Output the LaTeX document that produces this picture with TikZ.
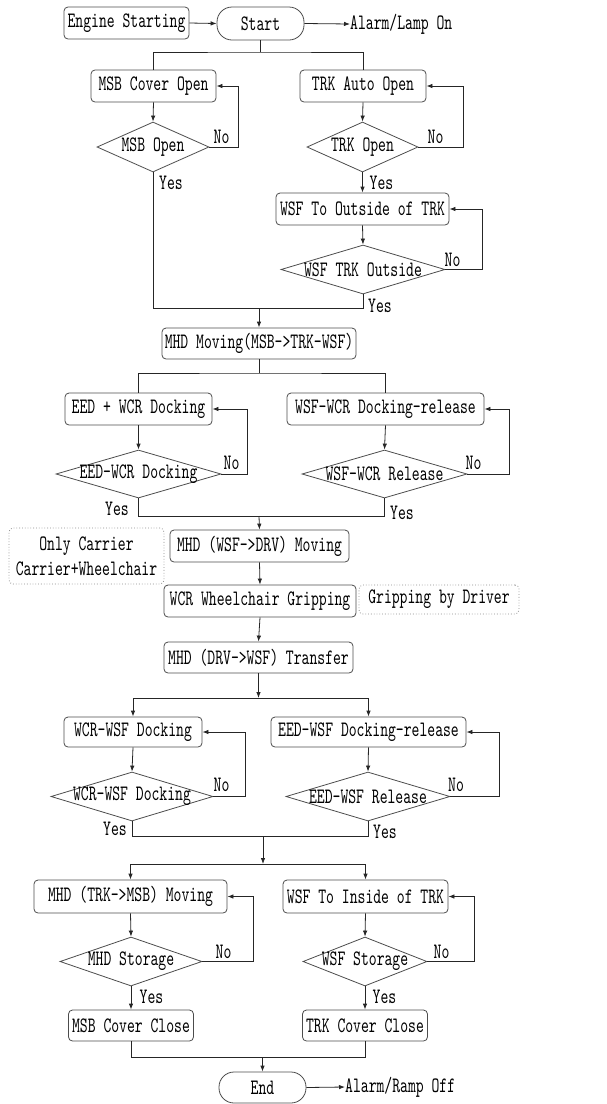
\documentclass[tikz,border=0pt]{standalone}
\usepackage{fontspec}
\newfontfamily\dfont{lmmono10-regular.otf}[FakeStretch=0.68]
\usetikzlibrary{shapes.geometric,arrows.meta}
\begin{document}
\begin{tikzpicture}[x=1pt,y=-1pt,
  font=\dfont\fontsize{22}{25}\selectfont,
  bx/.style 2 args={draw=black!70, line width=0.8pt, rounded corners=4pt, inner sep=0pt, minimum width=#1pt, minimum height=#2pt},
  term/.style 2 args={draw=black!70, line width=0.8pt, rounded corners=15pt, inner sep=0pt, minimum width=#1pt, minimum height=#2pt},
  note/.style 2 args={draw=black!45, dotted, line width=0.8pt, rounded corners=4pt, inner sep=0pt, minimum width=#1pt, minimum height=#2pt, align=center},
  dia/.style 2 args={diamond, draw=black!70, line width=0.8pt, inner sep=0pt, minimum width=#1pt, minimum height=#2pt},
  ln/.style={line width=0.8pt, draw=black!85},
  arr/.style={ln, -{Latex[length=6pt,width=4.5pt]}},
  lbl/.style={inner sep=0pt}
]
\useasboundingbox (0,0) rectangle (607,1104);

% top
\node[bx={125}{32}] (eng) at (126.5,23) {Engine Starting};
\node[term={87}{33}] (start) at (260.5,23.5) {Start};
\node[lbl, anchor=west] (alarm1) at (350,24) {Alarm/Lamp On};
\draw[arr] (eng.east) -- (start.west);
\draw[arr] (start.east) -- (alarm1.west);

\node[bx={125}{32}] (msbcov) at (153.5,86) {MSB Cover Open};
\node[bx={126}{32}] (trkauto) at (363,86) {TRK Auto Open};
\coordinate (s1) at (260.5,52);
\draw[ln] (start.south) -- (s1);
\draw[ln] (msbcov.north) |- (s1) -| (trkauto.north);

\node[dia={112}{50}] (d1) at (153,147) {\makebox[0pt]{MSB Open}};
\node[dia={111}{50}] (d2) at (362.5,147) {\makebox[0pt]{TRK Open}};
\draw[arr] (msbcov.south) -- (d1.north);
\draw[arr] (trkauto.south) -- (d2.north);
\draw[arr] (d1.east) -- ++(29,0) |- (msbcov.east);
\draw[arr] (d2.east) -- ++(45,0) |- (trkauto.east);
\node[lbl] at (221.5,137) {No};
\node[lbl] at (435.5,137) {No};
\node[lbl] at (171,183) {Yes};
\node[lbl] at (381.5,183) {Yes};

\node[bx={173}{32}] (wsfout) at (362.5,209) {WSF To Outside of TRK};
\draw[arr] (d2.south) -- (wsfout.north);
\node[dia={164}{49}] (d3) at (363,269.5) {\makebox[0pt]{WSF TRK Outside}};
\draw[arr] (wsfout.south) -- (d3.north);
\draw[arr] (d3.east) -- ++(37,0) |- (wsfout.east);
\node[lbl] at (452.5,260) {No};
\node[lbl] at (380,306) {Yes};

\node[bx={194}{31}] (mhd1) at (259,343.5) {MHD Moving(MSB->TRK-WSF)};
\coordinate (m1) at (259,308);
\draw[ln] (d1.south) |- (m1);
\draw[ln] (d3.south) |- (m1);
\draw[arr] (m1) -- (mhd1.north);

% second block
\node[bx={147}{32}] (eed) at (138.5,409) {EED + WCR Docking};
\node[bx={197}{32}] (wsfwcr) at (385.5,409) {WSF-WCR Docking-release};
\coordinate (s2) at (259,373);
\draw[ln] (mhd1.south) -- (s2);
\draw[ln] (eed.north) |- (s2) -| (wsfwcr.north);

\node[dia={165}{48}] (d4) at (138.5,474) {\makebox[0pt]{EED-WCR Docking}};
\node[dia={165}{48}] (d5) at (384.5,474) {\makebox[0pt]{WSF-WCR Release}};
\draw[arr] (eed.south) -- (d4.north);
\draw[arr] (wsfwcr.south) -- (d5.north);
\draw[arr] (d4.east) -- ++(26,0) |- (eed.east);
\draw[arr] (d5.east) -- ++(42,0) |- (wsfwcr.east);
\node[lbl] at (231.5,463) {No};
\node[lbl] at (473.5,463) {No};
\node[lbl] at (117,509) {Yes};
\node[lbl] at (402,513) {Yes};

\node[bx={179}{32}] (mhd2) at (259.5,546) {MHD (WSF->DRV) Moving};
\coordinate (m2) at (259,516);
\draw[ln] (d4.south) |- (m2);
\draw[ln] (d5.south) |- (m2);
\draw[arr] (m2) -- (mhd2.north);

\node[note={155}{56}] (note1) at (86.5,556) {Only Carrier\\Carrier+Wheelchair};

\node[bx={192}{32}] (wcrgrip) at (260,601) {WCR Wheelchair Gripping};
\node[note={160}{29}] (note2) at (439,599.5) {Gripping by Driver};
\draw[arr] (mhd2.south) -- (wcrgrip.north);

\node[bx={189}{31}] (mhd3) at (258.5,657.5) {MHD (DRV->WSF) Transfer};
\draw[arr] (wcrgrip.south) -- (mhd3.north);

% third block
\node[bx={138}{30}] (wcrwsf) at (133,732) {WCR-WSF Docking};
\node[bx={195}{30}] (eedwsf) at (368.5,732) {EED-WSF Docking-release};
\coordinate (m3) at (258.5,698);
\draw[arr] (mhd3.south) -- (m3);
\draw[arr] (m3) -| (wcrwsf.north);
\draw[arr] (m3) -| (eedwsf.north);

\node[dia={162}{49}] (d6) at (132,796.5) {\makebox[0pt]{WCR-WSF Docking}};
\node[dia={164}{49}] (d7) at (368,796.5) {\makebox[0pt]{EED-WSF Release}};
\draw[arr] (wcrwsf.south) -- (d6.north);
\draw[arr] (eedwsf.south) -- (d7.north);
\draw[arr] (d6.east) -- ++(32,0) |- (wcrwsf.east);
\draw[arr] (d7.east) -- ++(49,0) |- (eedwsf.east);
\node[lbl] at (221.5,785) {No};
\node[lbl] at (456,785) {No};
\node[lbl] at (115,829) {Yes};
\node[lbl] at (385,832) {Yes};

\coordinate (m4) at (263,836);
\coordinate (m5) at (263,864);
\draw[ln] (d6.south) |- (m4);
\draw[ln] (d7.south) |- (m4);
\draw[arr] (m4) -- (m5);

% fourth block
\node[bx={193}{33}] (mhd4) at (130.5,896.5) {MHD (TRK->MSB) Moving};
\node[bx={165}{33}] (wsfin) at (365.5,896.5) {WSF To Inside of TRK};
\draw[arr] (m5) -| (mhd4.north);
\draw[arr] (m5) -| (wsfin.north);

\node[dia={142}{49}] (d8) at (131,961.5) {\makebox[0pt]{MHD Storage}};
\node[dia={124}{49}] (d9) at (365,961.5) {\makebox[0pt]{WSF Storage}};
\draw[arr] (mhd4.south) -- (d8.north);
\draw[arr] (wsfin.south) -- (d9.north);
\draw[arr] (d8.east) -- ++(51,0) |- (mhd4.east);
\draw[arr] (d9.east) -- ++(47,0) |- (wsfin.east);
\node[lbl] at (223.5,952) {No};
\node[lbl] at (441.5,952) {No};

\node[bx={125}{31}] (msbclose) at (131,1025.5) {MSB Cover Close};
\node[bx={125}{31}] (trkclose) at (365,1025.5) {TRK Cover Close};
\draw[arr] (d8.south) -- (msbclose.north);
\draw[arr] (d9.south) -- (trkclose.north);
\node[lbl] at (151.5,997) {Yes};
\node[lbl] at (384.5,997) {Yes};

\node[term={87}{31}] (end) at (262.5,1087.5) {End};
\node[lbl, anchor=west] (alarm2) at (345,1087) {Alarm/Ramp Off};
\coordinate (m6) at (262.5,1057);
\draw[ln] (msbclose.south) |- (m6);
\draw[ln] (trkclose.south) |- (m6);
\draw[arr] (m6) -- (end.north);
\draw[arr] (end.east) -- (alarm2.west);
\end{tikzpicture}
\end{document}
